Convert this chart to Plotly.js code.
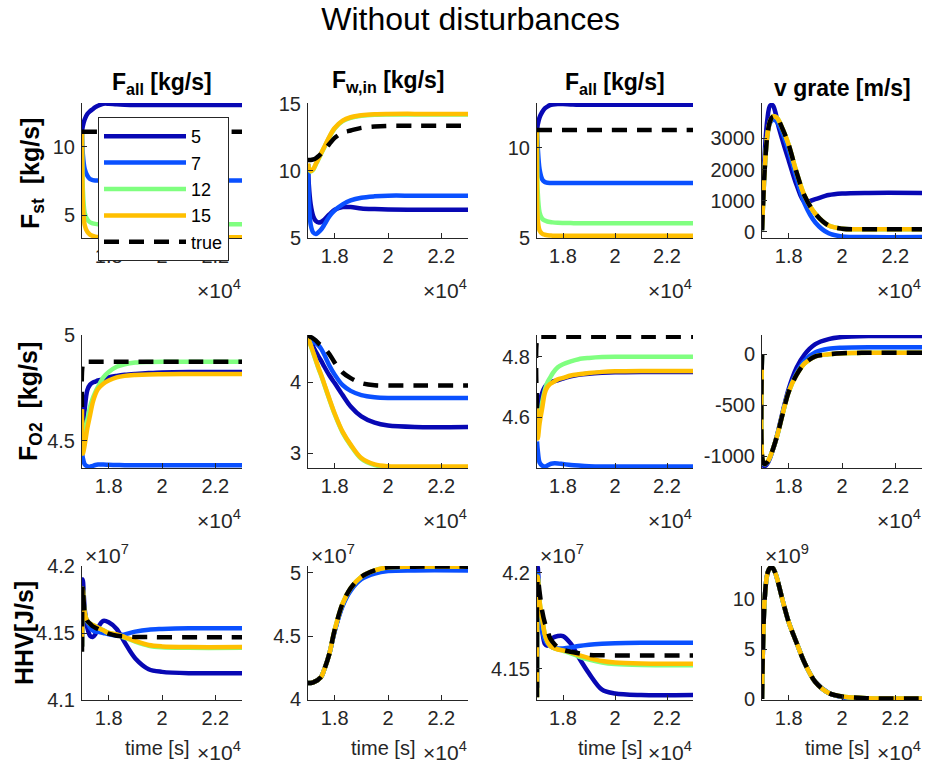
<!DOCTYPE html>
<html>
<head>
<meta charset="utf-8">
<script src="https://cdn.plot.ly/plotly-3.0.1.min.js"></script>
<style>html,body{margin:0;padding:0;background:#fff;}#chart{width:930px;height:766px;}</style>
</head>
<body>
<div id="chart"></div>
<script>
// ---------- data ----------
const seriesNames = ['5', '7', '12', '15', 'true'];
const time = [17000, 17030, 17100, 17200, 17300, 17400, 17500, 17600, 17800, 18000, 18300, 18600, 19000, 19500, 20000, 21000, 23000];
const xTickVals = [18000, 20000, 22000];
const xTickText = ['1.8', '2', '2.2'];

// Row 1: F_st [kg/s]
const fstFall_5    = [11.1, 11.5, 12.0, 12.4, 12.6, 12.75, 12.9, 13.0, 13.15, 13.15, 13.1, 13.07, 13.05, 13.05, 13.05, 13.05, 13.05];
const fstFall_7    = [11.1, 9.5, 8.4, 7.9, 7.65, 7.57, 7.55, 7.55, 7.55, 7.55, 7.55, 7.55, 7.55, 7.55, 7.55, 7.55, 7.55];
const fstFall_12   = [11.1, 7.0, 5.2, 4.7, 4.5, 4.42, 4.38, 4.36, 4.35, 4.35, 4.35, 4.35, 4.35, 4.35, 4.35, 4.35, 4.35];
const fstFall_15   = [11.1, 6.0, 4.3, 3.8, 3.6, 3.5, 3.45, 3.42, 3.4, 3.4, 3.4, 3.4, 3.4, 3.4, 3.4, 3.4, 3.4];
const fstFall_true = [11.1, 11.1, 11.1, 11.1, 11.1, 11.1, 11.1, 11.1, 11.1, 11.1, 11.1, 11.1, 11.1, 11.1, 11.1, 11.1, 11.1];

const fstFwin_5    = [10.5, 9.0, 7.5, 6.6, 6.25, 6.15, 6.2, 6.35, 6.75, 7.1, 7.3, 7.3, 7.2, 7.15, 7.12, 7.1, 7.1];
const fstFwin_7    = [10.5, 8.0, 6.0, 5.4, 5.3, 5.45, 5.65, 5.95, 6.6, 7.05, 7.5, 7.8, 8.0, 8.1, 8.15, 8.15, 8.15];
const fstFwin_12   = [10.5, 10.2, 9.95, 10.1, 10.5, 10.9, 11.3, 11.7, 12.5, 13.15, 13.7, 13.95, 14.1, 14.18, 14.2, 14.2, 14.2];
const fstFwin_15   = [10.54, 10.24, 9.99, 10.14, 10.54, 10.94, 11.34, 11.74, 12.54, 13.19, 13.74, 13.99, 14.14, 14.22, 14.24, 14.24, 14.24];
const fstFwin_true = [10.8, 10.8, 10.8, 10.85, 10.95, 11.1, 11.3, 11.5, 12.0, 12.45, 12.85, 13.0, 13.2, 13.3, 13.35, 13.35, 13.35];

const fstFall2_5    = [11.0, 11.3, 11.7, 12.0, 12.2, 12.3, 12.38, 12.42, 12.45, 12.44, 12.42, 12.4, 12.4, 12.4, 12.4, 12.4, 12.4];
const fstFall2_7    = [11.0, 10.0, 8.8, 8.25, 8.1, 8.06, 8.05, 8.05, 8.05, 8.05, 8.05, 8.05, 8.05, 8.05, 8.05, 8.05, 8.05];
const fstFall2_12   = [11.0, 7.5, 6.4, 6.05, 5.95, 5.9, 5.87, 5.85, 5.83, 5.82, 5.81, 5.8, 5.8, 5.8, 5.8, 5.8, 5.8];
const fstFall2_15   = [11.0, 6.0, 5.4, 5.22, 5.16, 5.13, 5.12, 5.11, 5.1, 5.1, 5.1, 5.1, 5.1, 5.1, 5.1, 5.1, 5.1];
const fstFall2_true = [11.0, 11.0, 11.0, 11.0, 11.0, 11.0, 11.0, 11.0, 11.0, 11.0, 11.0, 11.0, 11.0, 11.0, 11.0, 11.0, 11.0];

const fstVgrate_5    = [50, 900, 2500, 3600, 4050, 4070, 3850, 3450, 2850, 2300, 1500, 960, 1050, 1180, 1230, 1250, 1250];
const fstVgrate_7    = [50, 700, 2000, 3100, 3500, 3600, 3580, 3480, 3100, 2600, 1700, 900, 300, -50, -150, -170, -170];
const fstVgrate_12   = [50, 700, 2000, 3100, 3550, 3700, 3700, 3620, 3250, 2800, 1900, 1150, 580, 200, 100, 80, 80];
const fstVgrate_15   = [50, 700, 2000, 3100, 3550, 3700, 3700, 3620, 3250, 2800, 1900, 1150, 580, 200, 100, 80, 80];
const fstVgrate_true = [50, 700, 2000, 3100, 3550, 3700, 3700, 3620, 3250, 2800, 1900, 1150, 580, 200, 100, 80, 80];

// Row 2: F_O2 [kg/s]
const fo2Fall_5    = [4.7, 4.56, 4.65, 4.74, 4.765, 4.775, 4.78, 4.785, 4.79, 4.8, 4.807, 4.812, 4.816, 4.82, 4.823, 4.825, 4.825];
const fo2Fall_7    = [4.45, 4.42, 4.39, 4.38, 4.378, 4.382, 4.386, 4.388, 4.388, 4.387, 4.386, 4.385, 4.385, 4.385, 4.385, 4.385, 4.385];
const fo2Fall_12   = [4.6, 4.5, 4.54, 4.6, 4.66, 4.7, 4.73, 4.755, 4.8, 4.825, 4.85, 4.862, 4.87, 4.873, 4.874, 4.874, 4.874];
const fo2Fall_15   = [4.65, 4.44, 4.48, 4.56, 4.62, 4.68, 4.72, 4.745, 4.77, 4.785, 4.8, 4.807, 4.811, 4.814, 4.815, 4.816, 4.816];
const fo2Fall_true = [4.66, 4.86, 4.874, 4.874, 4.874, 4.874, 4.874, 4.874, 4.874, 4.874, 4.874, 4.874, 4.874, 4.874, 4.874, 4.874, 4.874];

const fo2Fwin_5    = [4.63, 4.61, 4.57, 4.5, 4.43, 4.36, 4.3, 4.23, 4.1, 3.99, 3.82, 3.66, 3.52, 3.43, 3.39, 3.37, 3.37];
const fo2Fwin_7    = [4.63, 4.62, 4.6, 4.57, 4.55, 4.52, 4.47, 4.4, 4.24, 4.11, 3.96, 3.88, 3.82, 3.79, 3.78, 3.78, 3.78];
const fo2Fwin_12   = [4.62, 4.59, 4.52, 4.41, 4.3, 4.19, 4.09, 3.98, 3.76, 3.55, 3.29, 3.11, 2.92, 2.83, 2.805, 2.8, 2.8];
const fo2Fwin_15   = [4.63, 4.6, 4.53, 4.42, 4.31, 4.2, 4.1, 3.99, 3.77, 3.56, 3.3, 3.12, 2.93, 2.84, 2.815, 2.81, 2.81];
const fo2Fwin_true = [4.63, 4.64, 4.64, 4.62, 4.59, 4.55, 4.52, 4.49, 4.4, 4.28, 4.14, 4.06, 3.99, 3.96, 3.955, 3.955, 3.955];

const fo2Fall2_5    = [4.68, 4.6, 4.64, 4.68, 4.7, 4.71, 4.715, 4.718, 4.722, 4.728, 4.735, 4.74, 4.744, 4.747, 4.749, 4.75, 4.75];
const fo2Fall2_7    = [4.52, 4.49, 4.45, 4.44, 4.437, 4.44, 4.445, 4.447, 4.447, 4.445, 4.442, 4.44, 4.438, 4.437, 4.437, 4.437, 4.437];
const fo2Fall2_12   = [4.6, 4.58, 4.6, 4.65, 4.69, 4.715, 4.73, 4.745, 4.765, 4.775, 4.785, 4.792, 4.796, 4.799, 4.8, 4.8, 4.8];
const fo2Fall2_15   = [4.63, 4.53, 4.58, 4.63, 4.68, 4.7, 4.71, 4.715, 4.725, 4.73, 4.738, 4.742, 4.746, 4.75, 4.752, 4.753, 4.753];
const fo2Fall2_true = [4.63, 4.866, 4.866, 4.866, 4.866, 4.866, 4.866, 4.866, 4.866, 4.866, 4.866, 4.866, 4.866, 4.866, 4.866, 4.866, 4.866];

const fo2Vgrate_5    = [0, -1080, -1100, -1075, -1020, -945, -860, -760, -540, -340, -130, 0, 100, 150, 170, 180, 180];
const fo2Vgrate_7    = [0, -1060, -1085, -1065, -1012, -942, -860, -768, -555, -360, -180, -60, 20, 55, 65, 70, 70];
const fo2Vgrate_12   = [0, -1050, -1080, -1060, -1010, -940, -860, -770, -560, -370, -200, -90, -20, 0, 10, 15, 15];
const fo2Vgrate_15   = [0, -1050, -1080, -1060, -1010, -940, -860, -770, -560, -370, -200, -90, -20, 0, 10, 15, 15];
const fo2Vgrate_true = [0, -1050, -1080, -1060, -1010, -940, -860, -770, -560, -370, -200, -90, -20, 0, 10, 15, 15];

// Row 3: HHV [J/s]  (values shown in units of 1e7, last column 1e9)
const hhvFall_5    = [4.14, 4.19, 4.168, 4.154, 4.148, 4.147, 4.149, 4.154, 4.159, 4.158, 4.153, 4.143, 4.131, 4.123, 4.121, 4.12, 4.12];
const hhvFall_7    = [4.14, 4.18, 4.165, 4.158, 4.154, 4.152, 4.151, 4.151, 4.15, 4.149, 4.148, 4.149, 4.151, 4.1525, 4.153, 4.1535, 4.1535];
const hhvFall_12   = [4.14, 4.183, 4.165, 4.159, 4.157, 4.156, 4.155, 4.154, 4.152, 4.15, 4.1488, 4.1465, 4.1435, 4.1405, 4.1393, 4.1389, 4.1389];
const hhvFall_15   = [4.14, 4.183, 4.165, 4.159, 4.157, 4.156, 4.155, 4.154, 4.152, 4.15, 4.149, 4.147, 4.144, 4.141, 4.14, 4.1395, 4.1395];
const hhvFall_true = [4.136, 4.185, 4.165, 4.159, 4.157, 4.155, 4.154, 4.153, 4.151, 4.1495, 4.148, 4.1475, 4.147, 4.147, 4.1468, 4.1468, 4.1468];

const hhvFwin_5    = [4.13, 4.13, 4.13, 4.135, 4.145, 4.16, 4.18, 4.23, 4.36, 4.54, 4.75, 4.87, 4.96, 5.01, 5.03, 5.035, 5.035];
const hhvFwin_7    = [4.13, 4.13, 4.13, 4.135, 4.145, 4.16, 4.18, 4.23, 4.36, 4.54, 4.74, 4.86, 4.95, 4.995, 5.015, 5.02, 5.02];
const hhvFwin_12   = [4.13, 4.13, 4.13, 4.135, 4.145, 4.16, 4.18, 4.23, 4.36, 4.55, 4.76, 4.88, 4.97, 5.02, 5.045, 5.05, 5.05];
const hhvFwin_15   = [4.13, 4.13, 4.13, 4.135, 4.145, 4.16, 4.18, 4.23, 4.36, 4.55, 4.76, 4.88, 4.97, 5.02, 5.045, 5.05, 5.05];
const hhvFwin_true = [4.13, 4.13, 4.13, 4.135, 4.145, 4.16, 4.18, 4.23, 4.36, 4.55, 4.76, 4.88, 4.97, 5.02, 5.045, 5.05, 5.05];

const hhvFall2_5    = [4.14, 4.203, 4.18, 4.17, 4.163, 4.162, 4.164, 4.166, 4.167, 4.167, 4.163, 4.156, 4.1475, 4.139, 4.137, 4.1362, 4.1362];
const hhvFall2_7    = [4.14, 4.2, 4.182, 4.17, 4.165, 4.163, 4.162, 4.161, 4.1605, 4.1605, 4.161, 4.1618, 4.1625, 4.163, 4.1633, 4.1635, 4.1635];
const hhvFall2_12   = [4.135, 4.198, 4.185, 4.176, 4.168, 4.164, 4.162, 4.161, 4.16, 4.1593, 4.158, 4.1563, 4.1547, 4.1532, 4.1524, 4.1519, 4.1518];
const hhvFall2_15   = [4.135, 4.198, 4.185, 4.176, 4.168, 4.164, 4.162, 4.161, 4.16, 4.1595, 4.1585, 4.157, 4.1555, 4.154, 4.1532, 4.1527, 4.1526];
const hhvFall2_true = [4.135, 4.197, 4.19, 4.18, 4.174, 4.17, 4.166, 4.164, 4.161, 4.1598, 4.1588, 4.158, 4.1572, 4.157, 4.1569, 4.1569, 4.1569];

const hhvVgrate_5    = [0, 4.5, 10.0, 12.5, 13.1, 13.1, 12.6, 11.7, 9.6, 7.7, 5.6, 3.6, 1.7, 0.6, 0.2, 0.02, 0.0];
const hhvVgrate_7    = [0, 4.5, 10.0, 12.5, 13.1, 13.1, 12.6, 11.7, 9.6, 7.7, 5.6, 3.6, 1.7, 0.6, 0.2, 0.02, 0.0];
const hhvVgrate_12   = [0, 4.5, 10.0, 12.5, 13.1, 13.1, 12.6, 11.7, 9.6, 7.7, 5.6, 3.6, 1.7, 0.6, 0.25, 0.08, 0.05];
const hhvVgrate_15   = [0, 4.5, 10.0, 12.5, 13.1, 13.1, 12.6, 11.7, 9.6, 7.7, 5.6, 3.6, 1.7, 0.6, 0.25, 0.08, 0.05];
const hhvVgrate_true = [0, 4.5, 10.0, 12.5, 13.1, 13.1, 12.6, 11.7, 9.6, 7.7, 5.6, 3.6, 1.7, 0.6, 0.25, 0.08, 0.05];

const colTitles = ['<b>F<sub>all</sub> [kg/s]</b>', '<b>F<sub>w,in</sub> [kg/s]</b>', '<b>F<sub>all</sub> [kg/s]</b>', '<b>v grate [m/s]</b>'];
const rowTitles = ['<b>F<sub>st</sub>  [kg/s]</b>', '<b>F<sub>O2</sub>  [kg/s]</b>', '<b>HHV[J/s]</b>'];

const yRanges = [[3.35, 13.2], [5, 15.05], [4.98, 12.5], [-200, 4140],
                 [4.372, 5.0], [2.79, 4.67], [4.432, 4.872], [-1118, 190],
                 [4.1, 4.2], [3.995, 5.055], [4.1336, 4.2036], [-0.1, 13.3]];
const yTickVals = [[5, 10], [5, 10, 15], [5, 10], [0, 1000, 2000, 3000],
                   [4.5, 5], [3, 4], [4.6, 4.8], [-1000, -500, 0],
                   [4.1, 4.15, 4.2], [4, 4.5, 5], [4.15, 4.2], [0, 5, 10]];
const yTickText = [['5', '10'], ['5', '10', '15'], ['5', '10'], ['0', '1000', '2000', '3000'],
                   ['4.5', '5'], ['3', '4'], ['4.6', '4.8'], ['-1000', '-500', '0'],
                   ['4.1', '4.15', '4.2'], ['4', '4.5', '5'], ['4.15', '4.2'], ['0', '5', '10']];
const yExponents = ['', '', '', '', '', '', '', '', '7', '7', '7', '9'];

const panels = [
  [fstFall_5, fstFall_7, fstFall_12, fstFall_15, fstFall_true],
  [fstFwin_5, fstFwin_7, fstFwin_12, fstFwin_15, fstFwin_true],
  [fstFall2_5, fstFall2_7, fstFall2_12, fstFall2_15, fstFall2_true],
  [fstVgrate_5, fstVgrate_7, fstVgrate_12, fstVgrate_15, fstVgrate_true],
  [fo2Fall_5, fo2Fall_7, fo2Fall_12, fo2Fall_15, fo2Fall_true],
  [fo2Fwin_5, fo2Fwin_7, fo2Fwin_12, fo2Fwin_15, fo2Fwin_true],
  [fo2Fall2_5, fo2Fall2_7, fo2Fall2_12, fo2Fall2_15, fo2Fall2_true],
  [fo2Vgrate_5, fo2Vgrate_7, fo2Vgrate_12, fo2Vgrate_15, fo2Vgrate_true],
  [hhvFall_5, hhvFall_7, hhvFall_12, hhvFall_15, hhvFall_true],
  [hhvFwin_5, hhvFwin_7, hhvFwin_12, hhvFwin_15, hhvFwin_true],
  [hhvFall2_5, hhvFall2_7, hhvFall2_12, hhvFall2_15, hhvFall2_true],
  [hhvVgrate_5, hhvVgrate_7, hhvVgrate_12, hhvVgrate_15, hhvVgrate_true]
];

// ---------- styling ----------
const W = 930, H = 766;
const colors = ['#0808b4', '#0a50ff', '#80ff80', '#ffbf00', '#000000'];
const FONT = 'Liberation Sans, Arial, Helvetica, sans-serif';
const AX = '#262626';
const TICK = 20;
const colPx = [[82, 242], [308, 468], [537, 693], [762, 922]];
const rowPx = [[103, 238], [335, 468], [566, 700]];

const traces = [];
const layout = {
  width: W, height: H,
  margin: {l: 0, r: 0, t: 0, b: 0},
  paper_bgcolor: '#ffffff', plot_bgcolor: '#ffffff',
  font: {family: FONT, color: AX, size: 18},
  title: {text: 'Without disturbances', x: 0.506, xanchor: 'center', y: 1 - 19 / H, yanchor: 'middle',
          yref: 'container', font: {family: FONT, size: 32, color: '#000000'}},
  showlegend: true,
  legend: {x: 98 / W, y: 1 - 117 / H, xanchor: 'left', yanchor: 'top', bgcolor: '#ffffff',
           bordercolor: AX, borderwidth: 1, font: {family: FONT, size: 18, color: '#000000'},
           tracegroupgap: 0, itemwidth: 82},
  annotations: [],
  shapes: []
};

for (let k = 0; k < 12; k++) {
  const r = Math.floor(k / 4), c = k % 4;
  const xa = k === 0 ? 'x' : 'x' + (k + 1);
  const ya = k === 0 ? 'y' : 'y' + (k + 1);
  const xk = k === 0 ? 'xaxis' : 'xaxis' + (k + 1);
  const yk = k === 0 ? 'yaxis' : 'yaxis' + (k + 1);
  for (let s = 0; s < 5; s++) {
    traces.push({
      type: 'scatter', mode: 'lines', x: time, y: panels[k][s],
      xaxis: xa, yaxis: ya, name: seriesNames[s], legendgroup: seriesNames[s],
      showlegend: k === 0, hoverinfo: 'skip',
      line: {color: colors[s], width: 4.5, shape: 'spline', smoothing: 0.9,
             dash: s === 4 ? '15px,10px' : 'solid'}
    });
  }
  layout[xk] = {
    domain: [colPx[c][0] / W, colPx[c][1] / W], anchor: ya,
    range: [17000, 23000], tickmode: 'array', tickvals: xTickVals, ticktext: xTickText,
    showline: true, linecolor: AX, linewidth: 1, ticks: 'inside', ticklen: 5, tickcolor: AX,
    tickfont: {family: FONT, size: TICK, color: AX}, showgrid: false, zeroline: false,
    ticklabelstandoff: 0, fixedrange: true
  };
  layout[yk] = {
    domain: [1 - rowPx[r][1] / H, 1 - rowPx[r][0] / H], anchor: xa,
    range: yRanges[k], tickmode: 'array', tickvals: yTickVals[k], ticktext: yTickText[k],
    showline: true, linecolor: AX, linewidth: 1, ticks: 'inside', ticklen: 5, tickcolor: AX,
    tickfont: {family: FONT, size: TICK, color: AX}, showgrid: false, zeroline: false,
    ticklabelstandoff: 2, fixedrange: true
  };
  // x exponent label
  layout.annotations.push({
    xref: 'paper', yref: 'paper', x: (colPx[c][1] + 1) / W, y: 1 - (rowPx[r][1] + 51) / H,
    xanchor: 'right', yanchor: 'middle', showarrow: false,
    text: '\u00d710<sup>4</sup>', font: {family: FONT, size: 21, color: AX}
  });
  if (yExponents[k]) {
    layout.annotations.push({
      xref: 'paper', yref: 'paper', x: (colPx[c][0] + 1) / W, y: 1 - (rowPx[r][0] - 12) / H,
      xanchor: 'left', yanchor: 'middle', showarrow: false,
      text: '\u00d710<sup>' + yExponents[k] + '</sup>', font: {family: FONT, size: 21, color: AX}
    });
  }
  if (r === 2) {
    layout.annotations.push({
      xref: 'paper', yref: 'paper', x: ((colPx[c][0] + colPx[c][1]) / 2 - 5) / W, y: 1 - 748 / H,
      xanchor: 'center', yanchor: 'middle', showarrow: false,
      text: 'time [s]', font: {family: FONT, size: 20, color: AX}
    });
  }
}
// column titles
const colTitleY = [83, 81, 83, 88];
for (let c = 0; c < 4; c++) {
  layout.annotations.push({
    xref: 'paper', yref: 'paper', x: (colPx[c][0] + colPx[c][1]) / 2 / W, y: 1 - colTitleY[c] / H,
    xanchor: 'center', yanchor: 'middle', showarrow: false,
    text: colTitles[c], font: {family: FONT, size: 23, color: '#000000'}
  });
}
// row titles
const rowTitleX = [32, 30, 24];
const rowTitleY = [174, 402, 633];
for (let r = 0; r < 3; r++) {
  layout.annotations.push({
    xref: 'paper', yref: 'paper', x: rowTitleX[r] / W, y: 1 - rowTitleY[r] / H,
    xanchor: 'center', yanchor: 'middle', showarrow: false, textangle: -90,
    text: rowTitles[r], font: {family: FONT, size: 25, color: '#000000'}
  });
}

Plotly.newPlot('chart', traces, layout, {displayModeBar: false, staticPlot: true});
</script>
</body>
</html>
